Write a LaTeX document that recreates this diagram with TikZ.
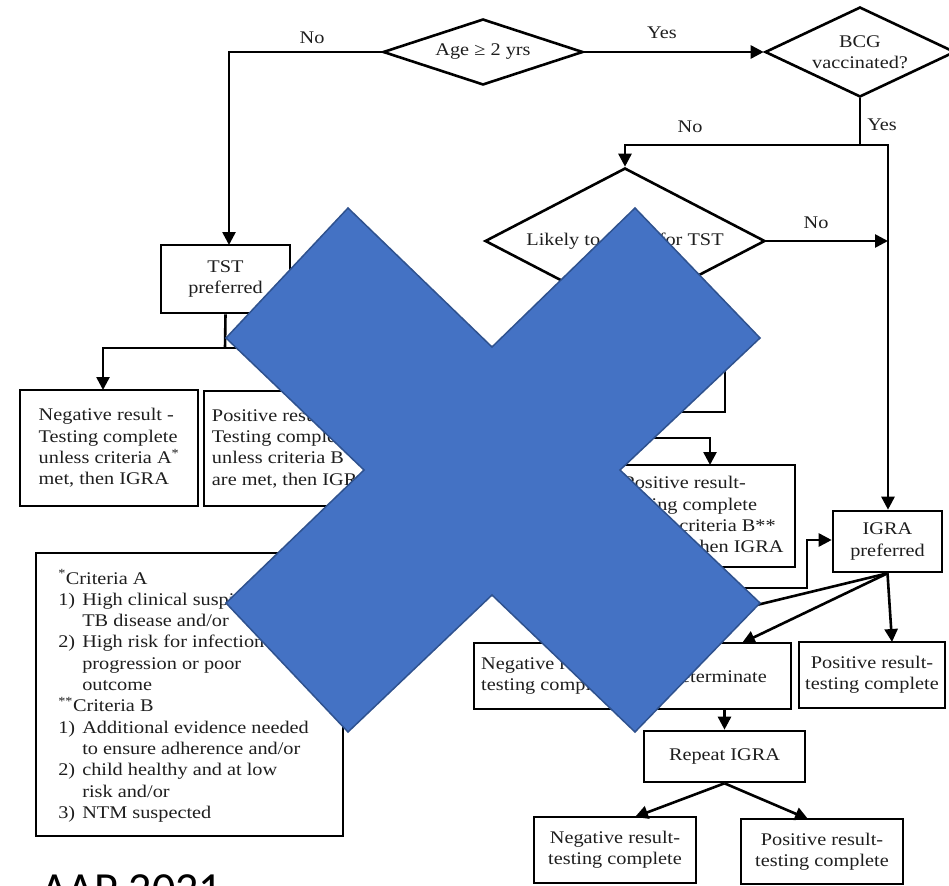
\documentclass[tikz,border=0pt]{standalone}
\usepackage{fontspec}
\setmainfont{Liberation Serif}[FakeStretch=1.14]
\newfontfamily\aapfont{Carlito}
\usetikzlibrary{arrows.meta,shapes.geometric,calc}
\definecolor{txt}{HTML}{1E1E1E}
\definecolor{xblue}{HTML}{4472C4}
\definecolor{xedge}{HTML}{2F528F}
\begin{document}
\begin{tikzpicture}[x=1pt,y=-1pt,
  line width=2.6pt,
  every node/.style={font=\fontsize{17.8}{21.3}\selectfont, text=txt},
  box/.style={draw, rectangle, inner sep=0pt, align=center},
  lbox/.style={draw, rectangle, inner sep=0pt, align=left},
  dia/.style={draw, diamond, inner sep=0pt, align=center},
  arr/.style={-{Triangle[length=13pt,width=13pt]}},
  lbl/.style={inner sep=0pt}
]
\useasboundingbox (0,0) rectangle (949,885);

% decisions
\node[dia, minimum width=200pt, minimum height=66pt, shape aspect=3] (age) at (483,52) {Age ≥ 2 yrs};
\node[dia, minimum width=190pt, minimum height=90pt, shape aspect=2.1] (bcg) at (860,52) {BCG\\vaccinated?};
\node[dia, minimum width=280pt, minimum height=146pt, shape aspect=1.92] (likely) at (625,241) {Likely to return for TST};

% boxes
\node[box, minimum width=129pt, minimum height=68pt] (tst) at (225.5,279) {TST\\preferred};
\node[lbox, minimum width=178pt, minimum height=116pt] (neg1) at (109,448) {Negative result -\\Testing complete\\unless criteria A\textsuperscript{*}\\met, then IGRA};
\node[lbox, minimum width=176pt, minimum height=115pt] (pos1) at (292,448.5) {Positive result -\\Testing complete\\unless criteria B\textsuperscript{**}\\are met, then IGRA};
\node[box, minimum width=307pt, minimum height=283pt] (crit) at (189.5,694.5) {};
\node[anchor=base west, inner sep=0pt] (crittext) at (57,584) {\begin{tabular}[t]{@{}p{24pt}@{}l@{}}
\multicolumn{2}{@{}l@{}}{\textsuperscript{*}Criteria A}\\
1) & High clinical suspicion of\\
   & TB disease and/or\\
2) & High risk for infection\\
   & progression or poor\\
   & outcome\\
\multicolumn{2}{@{}l@{}}{\textsuperscript{**}Criteria B}\\
1) & Additional evidence needed\\
   & to ensure adherence and/or\\
2) & child healthy and at low\\
   & risk and/or\\
3) & NTM suspected
\end{tabular}};
\node[box, minimum width=180pt, minimum height=62pt] (tstigra) at (635,381) {TST or IGRA};
\node[lbox, minimum width=183pt, minimum height=102pt] (pos2) at (703.5,516) {Positive result-\\testing complete\\unless criteria B**\\are met, then IGRA};
\node[box, minimum width=109pt, minimum height=61pt] (igra) at (887.5,541.5) {IGRA\\preferred};
\node[lbox, minimum width=148pt, minimum height=66pt] (neg3) at (548,676) {Negative result-\\testing complete};
\node[box, minimum width=161pt, minimum height=66pt] (ind) at (710.5,676) {Indeterminate};
\node[box, minimum width=146pt, minimum height=66pt] (pos3) at (872,675) {Positive result-\\testing complete};
\node[box, minimum width=161pt, minimum height=51pt] (rep) at (724.5,756.5) {Repeat IGRA};
\node[box, minimum width=162pt, minimum height=66pt] (neg4) at (615,850) {Negative result-\\testing complete};
\node[box, minimum width=162pt, minimum height=65pt] (pos4) at (822,851.5) {Positive result-\\testing complete};

% labels
\node[lbl] (nA) at (312,38) {No};
\node[lbl] (yA) at (662,33) {Yes};
\node[lbl] (yB) at (882,125) {Yes};
\node[lbl] (nB) at (690,127) {No};
\node[lbl] (nC) at (816,223) {No};

% connector points
\coordinate (c1) at (229,52);
\coordinate (c2) at (229,245);
\coordinate (b1) at (860,145);
\coordinate (b2) at (625,145);
\coordinate (b3) at (888,145);
\coordinate (l1) at (888,241);
\coordinate (t1) at (225,348);
\coordinate (t2) at (103,348);
\coordinate (t2d) at (103,390);
\coordinate (t3) at (290,348);
\coordinate (t3d) at (290,391);
\coordinate (g2) at (710,438);
\coordinate (g3) at (710,465);
\coordinate (h1) at (700,588);
\coordinate (h2) at (807,588);
\coordinate (h3) at (807,540);
\coordinate (f1) at (600,643);
\coordinate (f2) at (742,643);
\coordinate (f3) at (892,642);
\coordinate (r1) at (635,817);
\coordinate (r2) at (808,819);

% connectors
\draw[arr] (age.west) -- (c1) -- (c2);
\draw[arr] (age.east) -- (bcg.west);
\draw (bcg.south) -- (b1);
\draw[arr] (b1) -- (b2) -- (likely.north);
\draw[arr] (b1) -- (b3) -- (b3 |- igra.north);
\draw[arr] (likely.east) -- (l1);
\draw[arr] (likely.south) -- (tstigra.north);
\draw (tst.south) -- (t1);
\draw[arr] (t1) -- (t2) -- (t2d);
\draw[arr] (t1) -- (t3) -- (t3d);
\draw[arr] (tstigra.south) |- (g2) -- (g3);
\draw[arr] (h1) -- (h2) -- (h3) -- (igra.west |- h3);
\draw[arr] (igra.south) -- (f1);
\draw[arr] (igra.south) -- (f2);
\draw[arr] (igra.south) -- (f3);
\draw[arr] (ind.south -| rep.north) -- (rep.north);
\draw[arr] (rep.south) -- (r1);
\draw[arr] (rep.south) -- (r2);

% source (cut by the bottom edge, as in the reference)
\node[anchor=base west, inner sep=0pt, font=\aapfont\fontsize{46}{50}\selectfont, text=black] (aap) at (40,904) {AAP 2021};

% big blue cross
\path[fill=xblue, draw=xedge, line width=1.5pt] (348,208) -- (492,347) -- (635,208) -- (760,338) -- (620,470) -- (760,603) -- (635,732) -- (492,595) -- (348,732) -- (226,603) -- (364,470) -- (226,338) -- cycle;
\end{tikzpicture}
\end{document}
